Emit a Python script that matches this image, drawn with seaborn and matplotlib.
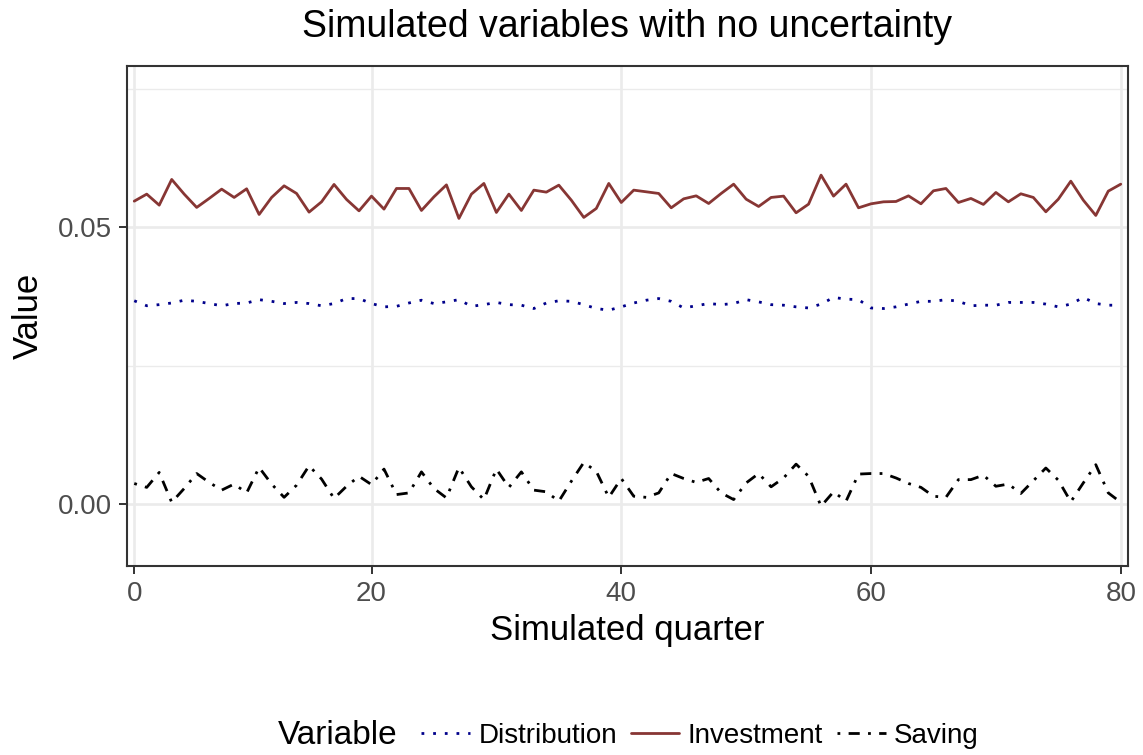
import numpy as np
import pandas as pd
import matplotlib
matplotlib.use("Agg")
import matplotlib.pyplot as plt
import seaborn as sns
from matplotlib.lines import Line2D

# ---------------- data ----------------
quarter = list(range(1, 81))

investment = [
    0.05469, 0.05596, 0.05397, 0.05861, 0.05596, 0.05356, 0.05518, 0.05686, 0.05536, 0.05692,
    0.05229, 0.05536, 0.05746, 0.05608, 0.05271, 0.05457, 0.05771, 0.05500, 0.05294, 0.05560,
    0.05325, 0.05698, 0.05698, 0.05301, 0.05547, 0.05763, 0.05157, 0.05596, 0.05789, 0.05265,
    0.05596, 0.05301, 0.05668, 0.05632, 0.05758, 0.05487, 0.05175, 0.05337, 0.05789, 0.05445,
    0.05668, 0.05638, 0.05608, 0.05349, 0.05511, 0.05565, 0.05427, 0.05608, 0.05776, 0.05505,
    0.05373, 0.05536, 0.05560, 0.05259, 0.05415, 0.05939, 0.05560, 0.05776, 0.05349, 0.05421,
    0.05457, 0.05463, 0.05565, 0.05421, 0.05656, 0.05698, 0.05445, 0.05518, 0.05410, 0.05626,
    0.05457, 0.05602, 0.05536, 0.05277, 0.05505, 0.05830, 0.05487, 0.05211, 0.05650, 0.05776,
]

distribution = [
    0.0367, 0.0358, 0.0360, 0.0363, 0.0368, 0.0366, 0.0362, 0.0358, 0.0362, 0.0363,
    0.0369, 0.0366, 0.0362, 0.0364, 0.0362, 0.0358, 0.0362, 0.0371, 0.0371, 0.0362,
    0.0356, 0.0357, 0.0363, 0.0368, 0.0362, 0.0365, 0.0369, 0.0357, 0.0360, 0.0364,
    0.0360, 0.0359, 0.0353, 0.0363, 0.0367, 0.0366, 0.0360, 0.0353, 0.0350, 0.0356,
    0.0363, 0.0368, 0.0371, 0.0366, 0.0354, 0.0358, 0.0362, 0.0360, 0.0362, 0.0369,
    0.0365, 0.0360, 0.0359, 0.0356, 0.0354, 0.0361, 0.0373, 0.0370, 0.0369, 0.0354,
    0.0353, 0.0356, 0.0361, 0.0366, 0.0366, 0.0369, 0.0366, 0.0358, 0.0359, 0.0359,
    0.0364, 0.0364, 0.0364, 0.0361, 0.0356, 0.0361, 0.0373, 0.0362, 0.0359, 0.0359,
]

saving = [
    0.0037, 0.0030, 0.0057, 0.0003, 0.0028, 0.0055, 0.0039, 0.0025, 0.0036, 0.0020,
    0.0066, 0.0036, 0.0012, 0.0034, 0.0069, 0.0045, 0.0010, 0.0032, 0.0050, 0.0035,
    0.0063, 0.0017, 0.0020, 0.0058, 0.0028, 0.0011, 0.0066, 0.0031, 0.0008, 0.0063,
    0.0030, 0.0058, 0.0025, 0.0022, 0.0005, 0.0041, 0.0075, 0.0059, 0.0012, 0.0046,
    0.0014, 0.0012, 0.0020, 0.0055, 0.0046, 0.0039, 0.0046, 0.0020, 0.0008, 0.0038,
    0.0055, 0.0031, 0.0047, 0.0072, 0.0050, -0.0004, 0.0022, 0.0005, 0.0054, 0.0055,
    0.0055, 0.0047, 0.0037, 0.0030, 0.0014, 0.0012, 0.0044, 0.0044, 0.0052, 0.0032,
    0.0036, 0.0019, 0.0042, 0.0065, 0.0043, 0.0004, 0.0038, 0.0071, 0.0020, 0.0003,
]

variables = ["Distribution", "Investment", "Saving"]
x_ticks = [1, 20, 40, 60, 80]
x_tick_labels = ["0", "20", "40", "60", "80"]
y_ticks = [0.00, 0.05]
y_tick_labels = ["0.00", "0.05"]
y_minor = [0.025, 0.075]

# ---------------- build long table ----------------
df = pd.concat([
    pd.DataFrame({"quarter": quarter, "Value": distribution, "Variable": "Distribution"}),
    pd.DataFrame({"quarter": quarter, "Value": investment, "Variable": "Investment"}),
    pd.DataFrame({"quarter": quarter, "Value": saving, "Variable": "Saving"}),
], ignore_index=True)

palette = {"Distribution": "#00008B", "Investment": "#873634", "Saving": "#000000"}
dashes = {"Distribution": (1, 3.2), "Investment": "", "Saving": (1, 3, 4, 3)}

sns.set_theme(style="white")
plt.rcParams["font.family"] = ["Liberation Sans", "DejaVu Sans"]
plt.rcParams["text.color"] = "black"

W, H = 1143, 755
fig = plt.figure(figsize=(W / 100, H / 100), dpi=100)
ax = fig.add_axes([127 / W, 1 - 566 / H, (1128 - 127) / W, (566 - 66) / H])

LW = 2.0
sns.lineplot(data=df, x="quarter", y="Value", hue="Variable", style="Variable",
             hue_order=variables, style_order=variables,
             palette=palette, dashes=dashes, linewidth=LW, ax=ax, legend=False)

ax.set_xlim(0.42, 80.58)
ax.set_ylim(-0.0112, 0.0791)
ax.set_xticks(x_ticks)
ax.set_xticklabels(x_tick_labels)
ax.set_yticks(y_ticks)
ax.set_yticklabels(y_tick_labels)
ax.set_yticks(y_minor, minor=True)

ax.set_axisbelow(True)
ax.grid(which="major", color="#EBEBEB", linewidth=1.9)
ax.grid(which="minor", axis="y", color="#EBEBEB", linewidth=1.0)
ax.tick_params(which="minor", length=0)
ax.tick_params(which="major", bottom=True, left=True, length=5.5, width=1.4,
               color="#333333", labelcolor="#4D4D4D", labelsize=20, pad=5)

for s in ax.spines.values():
    s.set_visible(True)
    s.set_color("#333333")
    s.set_linewidth(1.5)

ax.set_xlabel("Simulated quarter", fontsize=25, color="black", labelpad=5)
ax.set_ylabel("Value", fontsize=25, color="black", labelpad=10)

fig.text(627.5 / W, 1 - 27 / H, "Simulated variables with no uncertainty",
         ha="center", va="center", fontsize=27, color="black")

handles = []
for v in variables:
    h = Line2D([], [], color=palette[v], linewidth=LW)
    if dashes[v]:
        h.set_dashes(dashes[v])
    handles.append(h)
leg = fig.legend(handles, variables, loc="center", bbox_to_anchor=(700 / W, 1 - 736 / H),
                 ncol=3, frameon=False, fontsize=20, handlelength=1.75,
                 handletextpad=0.3, columnspacing=0.5, borderpad=0, labelcolor="black")
fig.text(397 / W, 1 - 736 / H, "Variable", ha="right", va="center", fontsize=24, color="black")

fig.savefig("out.png", dpi=100)
